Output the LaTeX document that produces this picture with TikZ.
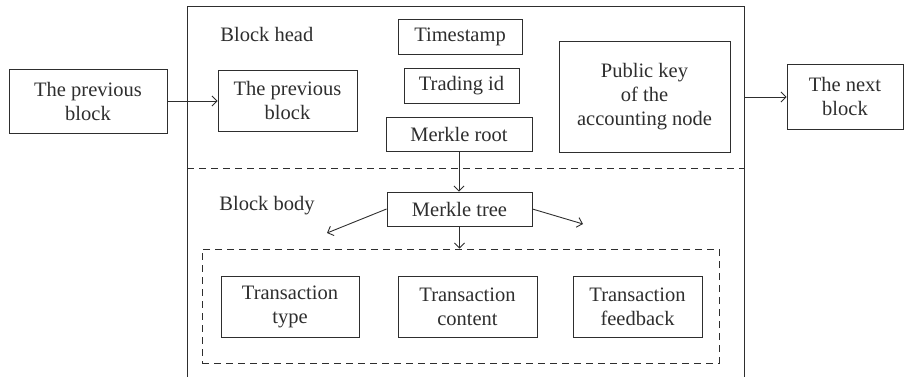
\documentclass[tikz,border=0pt]{standalone}
\usepackage{fontspec}
\setmainfont{Liberation Serif}
\usetikzlibrary{arrows.meta}
\definecolor{ln}{HTML}{2E2E2E}
\begin{document}
\begin{tikzpicture}[x=1pt,y=-1pt,color=ln,line width=0.9pt,
  box/.style={draw, align=center, inner sep=0pt, font=\fontsize{20.5}{24}\selectfont},
  lbl/.style={inner sep=0pt, font=\fontsize{20.5}{24}\selectfont, anchor=base west},
  dsh/.style={dash pattern=on 7pt off 5pt},
  arr/.style={-{Straight Barb[length=5pt,width=10pt]}}]
\useasboundingbox (0,0) rectangle (905,377);
\clip (0,0) rectangle (905,377);
% block frame
\draw (187,400) -- (187,6) -- (744,6) -- (744,400);
\draw[dsh] (187,168) -- (744,168);
\coordinate (blkE) at (744,97);
% nodes
\node[box, minimum width=158pt, minimum height=64pt] (prevout) at (88,101) {The previous\\block};
\node[box, minimum width=139pt, minimum height=61pt] (previn) at (287.5,100.5) {The previous\\block};
\node[box, minimum width=124pt, minimum height=35pt] (time) at (460,36.5) {Timestamp};
\node[box, minimum width=115pt, minimum height=35pt] (trade) at (461.5,85.5) {Trading id};
\node[box, minimum width=146pt, minimum height=34pt] (mroot) at (459,134) {Merkle root};
\node[box, minimum width=171pt, minimum height=111pt] (pub) at (644.5,96.5) {Public key\\of the\\accounting node};
\node[box, minimum width=116pt, minimum height=65pt] (next) at (845,96.5) {The next\\block};
\node[box, minimum width=145pt, minimum height=34pt] (mtree) at (459.5,209) {Merkle tree};
\node[draw, dsh, minimum width=517pt, minimum height=114pt, inner sep=0pt] (grp) at (460.5,306) {};
\node[box, minimum width=138pt, minimum height=61pt] (ttype) at (290,306.5) {Transaction\\type};
\node[box, minimum width=139pt, minimum height=61pt] (tcont) at (467.5,306.5) {Transaction\\content};
\node[box, minimum width=129pt, minimum height=61pt] (tfeed) at (637.5,306.5) {Transaction\\feedback};
\node[lbl] (bhead) at (220,42) {Block head};
\node[lbl] (bbody) at (219,210) {Block body};
% connectors
\coordinate (lt) at (327,233);
\coordinate (rt) at (583,224);
\draw[arr] (prevout.east) -- (prevout.east -| previn.west);
\draw[arr] (blkE) -- (blkE -| next.west);
\draw[arr] (mroot.south) -- (mroot.south |- mtree.north);
\draw[arr] (mtree.west) -- (lt);
\draw[arr] (mtree.east) -- (rt);
\draw[arr] (mtree.south) -- (mtree.south |- grp.north);
\end{tikzpicture}
\end{document}
